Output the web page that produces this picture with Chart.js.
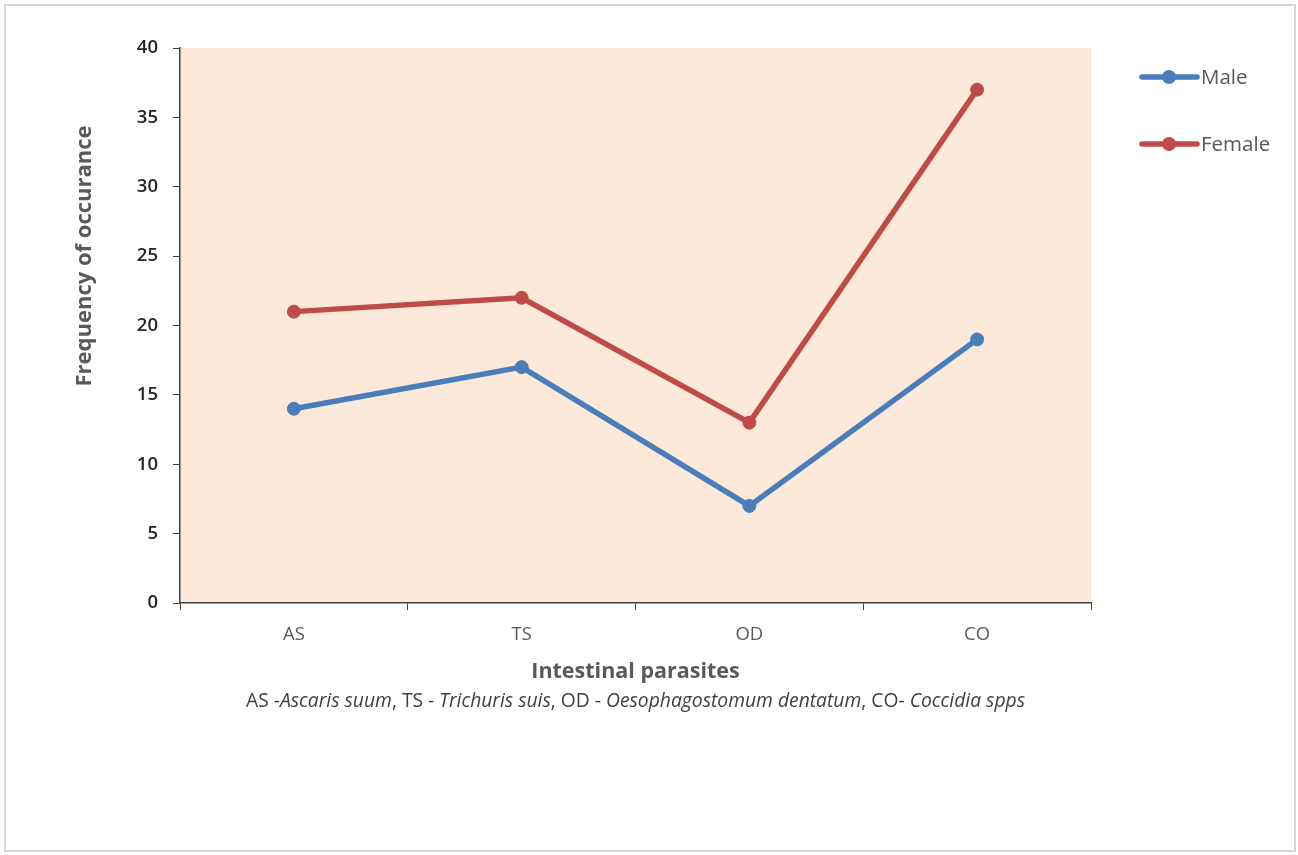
<!DOCTYPE html>
<html>
<head>
<meta charset="utf-8">
<script src="https://cdn.jsdelivr.net/npm/chart.js@4/dist/chart.umd.min.js"></script>
<style>
  html, body { margin: 0; padding: 0; background: #ffffff; }
  #frame {
    position: absolute; left: 4px; top: 4px;
    width: 1288px; height: 844px;
    border: 2px solid #d9d9d9;
  }
  #wrap { position: absolute; left: 0; top: 0; width: 1298px; height: 855px; }
</style>
</head>
<body>
<div id="frame"></div>
<div id="wrap"><canvas id="chart" width="1298" height="855"></canvas></div>
<script>
// Parasite codes along the x axis
const categories = ['AS', 'TS', 'OD', 'CO'];
// Frequency of occurrence by sex
const maleValues = [14, 17, 7, 19];
const femaleValues = [21, 22, 13, 37];
// Y axis range and step
const yMin = 0;
const yMax = 40;
const yStep = 5;

const FONT = "'Open Sans', 'Noto Sans', sans-serif";
const MALE_COLOR = '#4a7ebb';
const FEMALE_COLOR = '#be4b48';
const PLOT_BG = '#fde9d9';

// Plot background, axis titles, footnote and legend
const decorations = {
  id: 'decorations',
  beforeDraw(chart) {
    const { ctx, chartArea: a } = chart;
    ctx.save();
    ctx.fillStyle = PLOT_BG;
    ctx.fillRect(a.left, a.top, a.right - a.left, a.bottom - a.top);
    ctx.restore();
  },
  afterDraw(chart) {
    const { ctx, chartArea: a } = chart;
    ctx.save();
    // Y axis title
    ctx.fillStyle = '#595959';
    ctx.font = `bold 22px ${FONT}`;
    ctx.textAlign = 'center';
    ctx.textBaseline = 'middle';
    ctx.translate(85, 256);
    ctx.rotate(-Math.PI / 2);
    ctx.fillText('Frequency of occurance', 0, 0);
    ctx.restore();

    ctx.save();
    // X axis title
    ctx.fillStyle = '#595959';
    ctx.font = `bold 21.5px ${FONT}`;
    ctx.textAlign = 'center';
    ctx.textBaseline = 'middle';
    ctx.fillText('Intestinal parasites', (a.left + a.right) / 2, 672);

    // Footnote with italic species names
    const parts = [
      ['AS -', false], ['Ascaris suum', true], [', TS - ', false], ['Trichuris suis', true],
      [', OD - ', false], ['Oesophagostomum dentatum', true], [', CO- ', false], ['Coccidia spps', true]
    ];
    const size = 19.3;
    const fontFor = (it) => `${it ? 'italic ' : ''}${size}px ${FONT}`;
    let total = 0;
    parts.forEach(([t, it]) => { ctx.font = fontFor(it); total += ctx.measureText(t).width; });
    let x = (a.left + a.right) / 2 - total / 2;
    ctx.textAlign = 'left';
    ctx.fillStyle = '#404040';
    parts.forEach(([t, it]) => {
      ctx.font = fontFor(it);
      ctx.fillText(t, x, 702);
      x += ctx.measureText(t).width;
    });

    // Legend
    const items = chart.data.datasets.map((ds, i) => ({ label: ds.label, color: ds.borderColor, y: [77, 144][i] }));
    items.forEach(it => {
      ctx.strokeStyle = it.color;
      ctx.lineWidth = 5.5;
      ctx.lineCap = 'round';
      ctx.beginPath();
      ctx.moveTo(1142, it.y);
      ctx.lineTo(1197, it.y);
      ctx.stroke();
      ctx.fillStyle = it.color;
      ctx.beginPath();
      ctx.arc(1169, it.y, 7, 0, Math.PI * 2);
      ctx.fill();
      ctx.fillStyle = '#595959';
      ctx.font = `20.5px ${FONT}`;
      ctx.textAlign = 'left';
      ctx.textBaseline = 'middle';
      ctx.fillText(it.label, 1201, it.y + 1);
    });
    ctx.restore();
  }
};

new Chart(document.getElementById('chart'), {
  type: 'line',
  data: {
    labels: categories,
    datasets: [
      {
        label: 'Male',
        data: maleValues,
        borderColor: MALE_COLOR,
        backgroundColor: MALE_COLOR,
        pointBackgroundColor: MALE_COLOR,
        pointBorderColor: MALE_COLOR,
        borderWidth: 5.5,
        pointRadius: 6.5,
        pointBorderWidth: 1,
        tension: 0,
        fill: false
      },
      {
        label: 'Female',
        data: femaleValues,
        borderColor: FEMALE_COLOR,
        backgroundColor: FEMALE_COLOR,
        pointBackgroundColor: FEMALE_COLOR,
        pointBorderColor: FEMALE_COLOR,
        borderWidth: 5.5,
        pointRadius: 6.5,
        pointBorderWidth: 1,
        tension: 0,
        fill: false
      }
    ]
  },
  options: {
    responsive: false,
    animation: false,
    devicePixelRatio: 1,
    layout: { padding: { left: 0, top: 48, right: 207, bottom: 0 } },
    plugins: {
      legend: { display: false },
      tooltip: { enabled: false }
    },
    scales: {
      x: {
        type: 'category',
        offset: true,
        grid: {
          offset: true,
          drawOnChartArea: false,
          drawTicks: true,
          tickLength: 7,
          color: '#404040',
          lineWidth: 1
        },
        border: { display: true, color: '#404040', width: 1.5 },
        ticks: {
          color: '#595959',
          font: { family: FONT, size: 18.5 },
          padding: 14
        },
        afterFit(scale) { scale.height = 252; }
      },
      y: {
        min: yMin,
        max: yMax,
        grid: {
          drawOnChartArea: false,
          drawTicks: true,
          tickLength: 7,
          color: '#404040',
          lineWidth: 1
        },
        border: { display: true, color: '#404040', width: 1.5 },
        ticks: {
          stepSize: yStep,
          color: '#262626',
          font: { family: FONT, size: 18.5, weight: '600' },
          padding: 15
        },
        afterFit(scale) { scale.width = 180; }
      }
    }
  },
  plugins: [decorations]
});
</script>
</body>
</html>
